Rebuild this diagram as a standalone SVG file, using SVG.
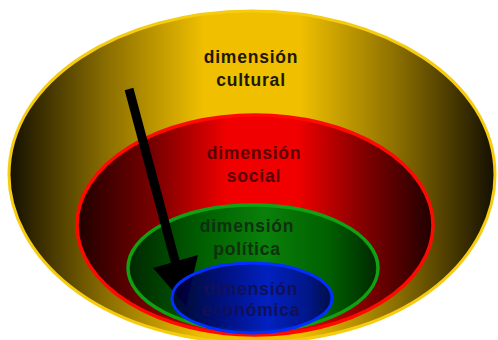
<svg xmlns="http://www.w3.org/2000/svg" width="498" height="340" viewBox="0 0 498 340">
<defs>
<linearGradient id="gGold" x1="0" y1="0" x2="1" y2="0">
<stop offset="0" stop-color="#140f00"/><stop offset="0.2" stop-color="#8a6e00"/><stop offset="0.4" stop-color="#efbf00"/><stop offset="0.6" stop-color="#efbf00"/><stop offset="0.8" stop-color="#8a6e00"/><stop offset="1" stop-color="#140f00"/>
</linearGradient>
<linearGradient id="gRed" x1="0" y1="0" x2="1" y2="0">
<stop offset="0" stop-color="#200000"/><stop offset="0.22" stop-color="#7a0000"/><stop offset="0.42" stop-color="#f00000"/><stop offset="0.62" stop-color="#f00000"/><stop offset="0.82" stop-color="#7a0000"/><stop offset="1" stop-color="#200000"/>
</linearGradient>
<linearGradient id="gGreen" x1="0" y1="0" x2="1" y2="0">
<stop offset="0" stop-color="#002800"/><stop offset="0.3" stop-color="#006000"/><stop offset="0.55" stop-color="#0a800a"/><stop offset="0.8" stop-color="#006000"/><stop offset="1" stop-color="#002800"/>
</linearGradient>
<linearGradient id="gBlue" x1="0" y1="0" x2="1" y2="0">
<stop offset="0" stop-color="#000030"/><stop offset="0.3" stop-color="#000090"/><stop offset="0.6" stop-color="#0010e0"/><stop offset="0.85" stop-color="#0008a0"/><stop offset="1" stop-color="#000050"/>
</linearGradient>
<style>
text{font-family:"Liberation Sans",Arial,sans-serif;font-weight:bold;font-size:17.5px;letter-spacing:0.8px;text-anchor:middle}
</style>
</defs>
<g id="cultural">
<path d="M 9,175 C 9,80 120,11 252,11 C 384,11 495,80 495,175 C 495,250 420,340 252,343 C 90,340 9,250 9,175 Z" fill="url(#gGold)" stroke="#f5cc10" stroke-width="3"/>
<text x="251" y="63" fill="#1e1800">dimensión</text>
<text x="251" y="86" fill="#1e1800">cultural</text>
</g>
<g id="social">
<ellipse cx="255" cy="225" rx="178" ry="110" fill="url(#gRed)" stroke="#ff0a00" stroke-width="3.5"/>
<text x="254" y="159" fill="#5a0000">dimensión</text>
<text x="254" y="182" fill="#5a0000">social</text>
</g>
<g id="politica">
<ellipse cx="253" cy="268" rx="125" ry="63" fill="url(#gGreen)" stroke="#10a010" stroke-width="3.5"/>
<text x="247" y="232" fill="#0e300e">dimensión</text>
<text x="247" y="255" fill="#0e300e">política</text>
</g>
<g id="connectors">
<line x1="129" y1="89" x2="178" y2="272" stroke="#000" stroke-width="9"/>
<polygon points="153,268 198,255 186,306" fill="#000"/>
</g>
<g id="economica">
<ellipse cx="252" cy="298" rx="80" ry="35" fill="url(#gBlue)" fill-opacity="0.85" stroke="#0030ff" stroke-width="3"/>
<text x="251" y="295" fill="#10105a">dimensión</text>
<text x="251" y="316" fill="#10105a">económica</text>
</g>
</svg>
